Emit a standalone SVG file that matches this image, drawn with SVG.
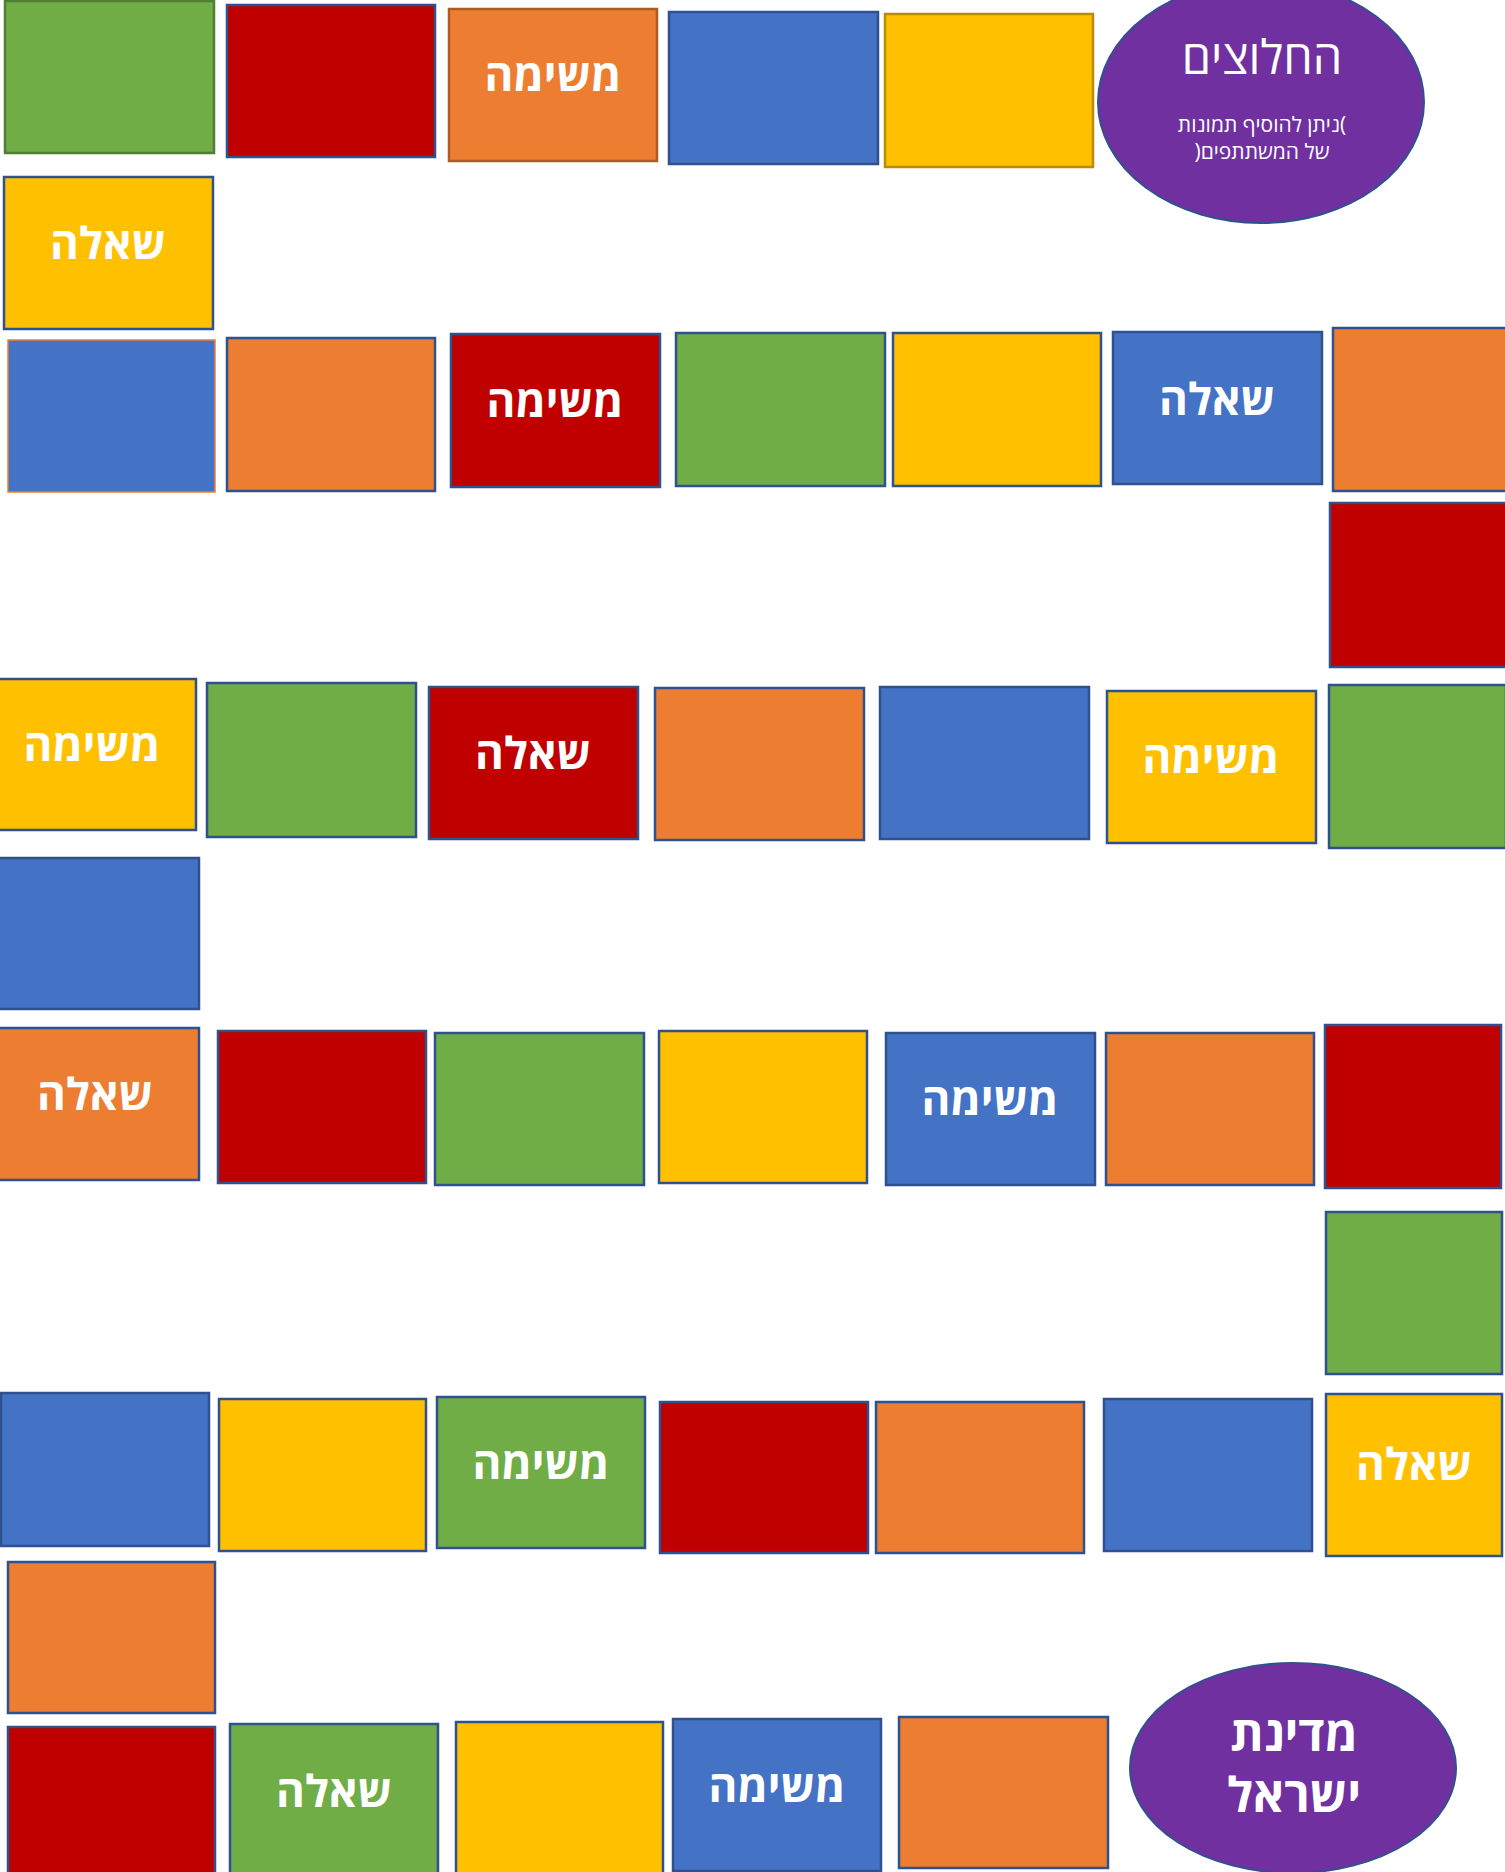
<svg xmlns="http://www.w3.org/2000/svg" width="1505" height="1872" viewBox="0 0 1505 1872">
<style>
rect{stroke:#2F528F;stroke-width:2.5}
.g{fill:#70AD47}.r{fill:#C00000}.o{fill:#ED7D31}.b{fill:#4472C4}.y{fill:#FFC000}
ellipse{fill:#7030A0;stroke:#2F528F;stroke-width:2}
text{fill:#FFFFFF;font-family:"Open Sans","Liberation Sans","DejaVu Sans",sans-serif;text-anchor:middle;direction:rtl}
.lb{font-size:44px;font-weight:bold}
.big{font-size:48px;font-weight:bold}
.tt{font-size:47px;font-weight:normal}
.st{font-size:21px;font-weight:normal}
</style>
<rect width="1505" height="1872" fill="#FFFFFF" style="stroke:none"/>
<g id="connectors"></g>
<!-- Row 1 -->
<g id="n1"><rect class="g" x="5" y="1" width="209" height="152" style="stroke:#507E32"/></g>
<g id="n2"><rect class="r" x="227" y="5" width="208" height="152"/></g>
<g id="n3"><rect class="o" x="449" y="9" width="208" height="152" style="stroke:#AE5A21"/><text class="lb" x="553" y="91">משימה</text></g>
<g id="n4"><rect class="b" x="669" y="12" width="209" height="152"/></g>
<g id="n5"><rect class="y" x="885" y="14" width="208" height="153" style="stroke:#BC8C00"/></g>
<g id="start"><ellipse cx="1261" cy="102" rx="163" ry="121"/><text class="tt" x="1262" y="74">החלוצים</text><text class="st" x="1262" y="132">)ניתן להוסיף תמונות</text><text class="st" x="1262" y="159">של המשתתפים(</text></g>
<!-- Row 2 -->
<g id="n6"><rect class="y" x="4" y="177" width="209" height="152"/><text class="lb" x="108" y="259">שאלה</text></g>
<!-- Row 3 -->
<g id="n7"><rect class="b" x="8" y="340" width="207" height="152" style="stroke:#ED7D31;stroke-width:1.5"/></g>
<g id="n8"><rect class="o" x="227" y="338" width="208" height="153"/></g>
<g id="n9"><rect class="r" x="451" y="334" width="209" height="153"/><text class="lb" x="555" y="417">משימה</text></g>
<g id="n10"><rect class="g" x="676" y="333" width="209" height="153"/></g>
<g id="n11"><rect class="y" x="893" y="333" width="208" height="153"/></g>
<g id="n12"><rect class="b" x="1113" y="332" width="209" height="152"/><text class="lb" x="1217" y="415">שאלה</text></g>
<g id="n13"><rect class="o" x="1333" y="328" width="177" height="163"/></g>
<g id="n14"><rect class="r" x="1330" y="503" width="177" height="164"/></g>
<!-- Row 4 -->
<g id="n15"><rect class="g" x="1329" y="685" width="177" height="163"/></g>
<g id="n16"><rect class="y" x="1107" y="691" width="209" height="152"/><text class="lb" x="1211" y="773">משימה</text></g>
<g id="n17"><rect class="b" x="880" y="687" width="209" height="152"/></g>
<g id="n18"><rect class="o" x="655" y="688" width="209" height="152"/></g>
<g id="n19"><rect class="r" x="429" y="687" width="209" height="152"/><text class="lb" x="533" y="769">שאלה</text></g>
<g id="n20"><rect class="g" x="207" y="683" width="209" height="154"/></g>
<g id="n21"><rect class="y" x="-12" y="679" width="208" height="151"/><text class="lb" x="92" y="761">משימה</text></g>
<!-- Row 5 -->
<g id="n22"><rect class="b" x="-10" y="858" width="209" height="151"/></g>
<!-- Row 6 -->
<g id="n23"><rect class="o" x="-9" y="1028" width="208" height="152"/><text class="lb" x="95" y="1110">שאלה</text></g>
<g id="n24"><rect class="r" x="218" y="1031" width="208" height="152"/></g>
<g id="n25"><rect class="g" x="435" y="1033" width="209" height="152"/></g>
<g id="n26"><rect class="y" x="659" y="1031" width="208" height="152"/></g>
<g id="n27"><rect class="b" x="886" y="1033" width="209" height="152"/><text class="lb" x="990" y="1115">משימה</text></g>
<g id="n28"><rect class="o" x="1106" y="1033" width="208" height="152"/></g>
<g id="n29"><rect class="r" x="1325" y="1025" width="176" height="163"/></g>
<!-- Row 7 -->
<g id="n30"><rect class="g" x="1326" y="1212" width="176" height="162"/></g>
<!-- Row 8 -->
<g id="n31"><rect class="y" x="1326" y="1394" width="176" height="162"/><text class="lb" x="1414" y="1480">שאלה</text></g>
<g id="n32"><rect class="b" x="1104" y="1399" width="208" height="152"/></g>
<g id="n33"><rect class="o" x="876" y="1402" width="208" height="151"/></g>
<g id="n34"><rect class="r" x="660" y="1402" width="208" height="151"/></g>
<g id="n35"><rect class="g" x="437" y="1397" width="208" height="151"/><text class="lb" x="541" y="1479">משימה</text></g>
<g id="n36"><rect class="y" x="219" y="1399" width="207" height="152"/></g>
<g id="n37"><rect class="b" x="1" y="1393" width="208" height="153"/></g>
<!-- Row 9 -->
<g id="n38"><rect class="o" x="8" y="1562" width="207" height="151"/></g>
<!-- Row 10 -->
<g id="n39"><rect class="r" x="8" y="1727" width="207" height="152"/></g>
<g id="n40"><rect class="g" x="230" y="1724" width="208" height="152"/><text class="lb" x="334" y="1807">שאלה</text></g>
<g id="n41"><rect class="y" x="456" y="1722" width="207" height="152"/></g>
<g id="n42"><rect class="b" x="673" y="1719" width="208" height="152"/><text class="lb" x="777" y="1802">משימה</text></g>
<g id="n43"><rect class="o" x="899" y="1717" width="209" height="151"/></g>
<g id="finish"><ellipse cx="1293" cy="1768" rx="163" ry="105"/><text class="big" x="1294" y="1751">מדינת</text><text class="big" x="1294" y="1812">ישראל</text></g>
</svg>
